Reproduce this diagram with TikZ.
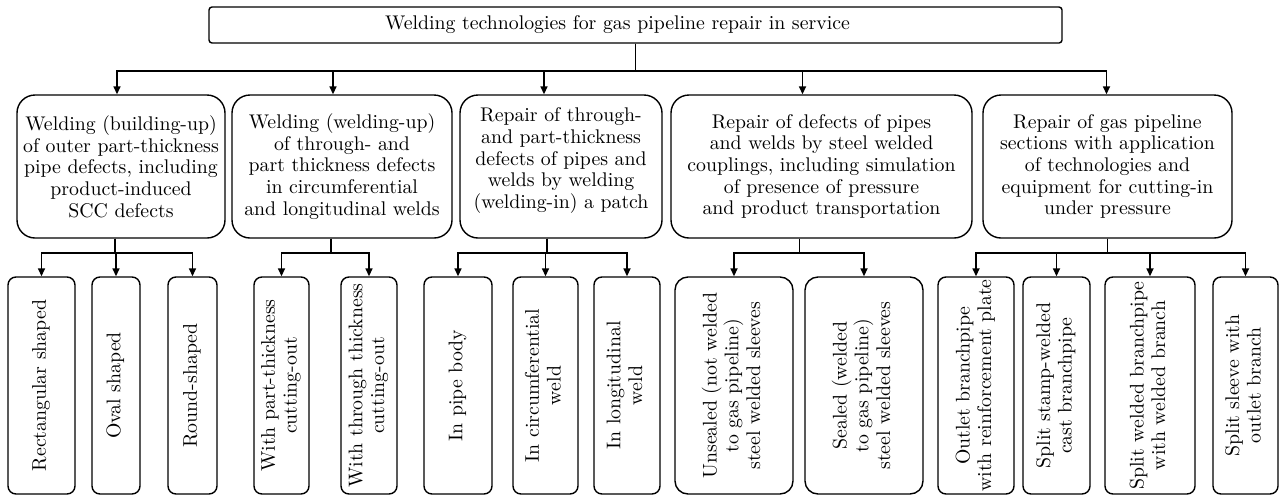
\documentclass[tikz,border=0pt]{standalone}
\usepackage{fontspec}
\setmainfont{lmroman10}[Extension=.otf, UprightFont=*-regular]
\usetikzlibrary{arrows.meta}

\newcommand{\vlabel}[1]{\rotatebox{90}{\begin{tabular}{@{}c@{}}#1\end{tabular}}}

\begin{document}
\begin{tikzpicture}[
    x=1pt, y=-1pt,
    font=\fontsize{19.8}{21.7}\selectfont,
    topbox/.style={draw=black, line width=1.4pt, rounded corners=3pt,
        minimum width=853pt, minimum height=36pt, inner sep=0pt},
    group/.style={draw=black, line width=1.4pt, rounded corners=18pt,
        align=center, minimum height=143pt, inner sep=0pt},
    leaf/.style={draw=black, line width=1.4pt, rounded corners=8pt,
        minimum height=217pt, inner sep=0pt},
    link/.style={line width=1.6pt, -{Triangle[length=8pt,width=7pt]}},
    stub/.style={line width=1.6pt}
]
    \useasboundingbox (0,0) rectangle (1285,496);
    \node[topbox] (top) at (635.5,25) {\hspace*{-36pt}Welding technologies for gas pipeline repair in service};
    \node[group, minimum width=208pt] (b1) at (121,166.5) {Welding (building-up)\\of outer part-thickness\\pipe defects, including\\product-induced\\SCC defects};
    \node[group, minimum width=220pt] (b2) at (342,166.5) {Welding (welding-up)\\of through- and\\part thickness defects\\in circumferential\\and longitudinal welds};
    \node[group, minimum width=202pt] (b3) at (561,166.5) {Repair of through-\\and part-thickness\\defects of pipes and\\welds by welding\\(welding-in) a patch\\[-5pt] \mbox{}};
    \node[group, minimum width=301pt] (b4) at (821.5,166.5) {Repair of defects of pipes\\and welds by steel welded\\couplings, including simulation\\of presence of pressure\\and product transportation};
    \node[group, minimum width=249pt] (b5) at (1107.5,166.5) {Repair of gas pipeline\\sections with application\\of technologies and\\equipment for cutting-in\\under pressure};
    \node[leaf, minimum width=67pt] (r1) at (41.5,385.5) {\vlabel{Rectangular shaped}};
    \node[leaf, minimum width=48pt] (r2) at (116,385.5) {\vlabel{Oval shaped}};
    \node[leaf, minimum width=49pt] (r3) at (192.5,385.5) {\vlabel{Round-shaped}};
    \node[leaf, minimum width=55pt] (r4) at (281.5,385.5) {\vlabel{With part-thickness\\cutting-out}};
    \node[leaf, minimum width=56pt] (r5) at (369,385.5) {\vlabel{With through thickness\\cutting-out}};
    \node[leaf, minimum width=68pt] (r6) at (458,385.5) {\vlabel{In pipe body}};
    \node[leaf, minimum width=65pt] (r7) at (545.5,385.5) {\vlabel{In circumferential\\weld}};
    \node[leaf, minimum width=66pt] (r8) at (627,385.5) {\vlabel{In longitudinal\\weld}};
    \node[leaf, minimum width=118pt, rounded corners=13pt] (r9) at (734,385.5) {\vlabel{Unsealed (not welded\\to gas pipeline)\\steel welded sleeves}};
    \node[leaf, minimum width=118pt, rounded corners=13pt] (r10) at (864,385.5) {\vlabel{Sealed (welded\\to gas pipeline)\\steel welded sleeves}};
    \node[leaf, minimum width=76pt] (r11) at (976,385.5) {\vlabel{Outlet branchpipe\\with reinforcement plate}};
    \node[leaf, minimum width=67pt] (r12) at (1056.5,385.5) {\vlabel{Split stamp-welded\\cast branchpipe}};
    \node[leaf, minimum width=90pt] (r13) at (1150,385.5) {\vlabel{Split welded branchpipe\\with welded branch}};
    \node[leaf, minimum width=65pt] (r14) at (1245.5,385.5) {\vlabel{Split sleeve with\\outlet branch}};
    \draw[link] (top.south) -- ++(0,27) -| ([xshift=-4pt]b1.north);
    \draw[link] (top.south) -- ++(0,27) -| ([xshift=-9pt]b2.north);
    \draw[link] (top.south) -- ++(0,27) -| ([xshift=-17pt]b3.north);
    \draw[link] (top.south) -- ++(0,27) -| ([xshift=-19pt]b4.north);
    \draw[link] (top.south) -- ++(0,27) -| ([xshift=-1pt]b5.north);
    \draw[link] ([xshift=-6pt]b1.south) -- ++(0,14) -| (r1.north);
    \draw[link] ([xshift=-6pt]b1.south) -- ++(0,14) -| (r2.north);
    \draw[link] ([xshift=-6pt]b1.south) -- ++(0,14) -| (r3.north);
    \draw[link] ([xshift=-11pt]b2.south) -- ++(0,14) -| (r4.north);
    \draw[link] ([xshift=-11pt]b2.south) -- ++(0,14) -| (r5.north);
    \draw[link] ([xshift=-14pt]b3.south) -- ++(0,14) -| (r6.north);
    \draw[link] ([xshift=-14pt]b3.south) -- ++(0,14) -| (r7.north);
    \draw[link] ([xshift=-14pt]b3.south) -- ++(0,14) -| (r8.north);
    \draw[link] ([xshift=-22pt]b4.south) -- ++(0,14) -| (r9.north);
    \draw[link] ([xshift=-22pt]b4.south) -- ++(0,14) -| (r10.north);
    \draw[link] (b5.south) -- ++(0,14) -| (r11.north);
    \draw[link] (b5.south) -- ++(0,14) -| (r12.north);
    \draw[link] (b5.south) -- ++(0,14) -| (r13.north);
    \draw[link] (b5.south) -- ++(0,14) -| (r14.north);
\end{tikzpicture}
\end{document}
